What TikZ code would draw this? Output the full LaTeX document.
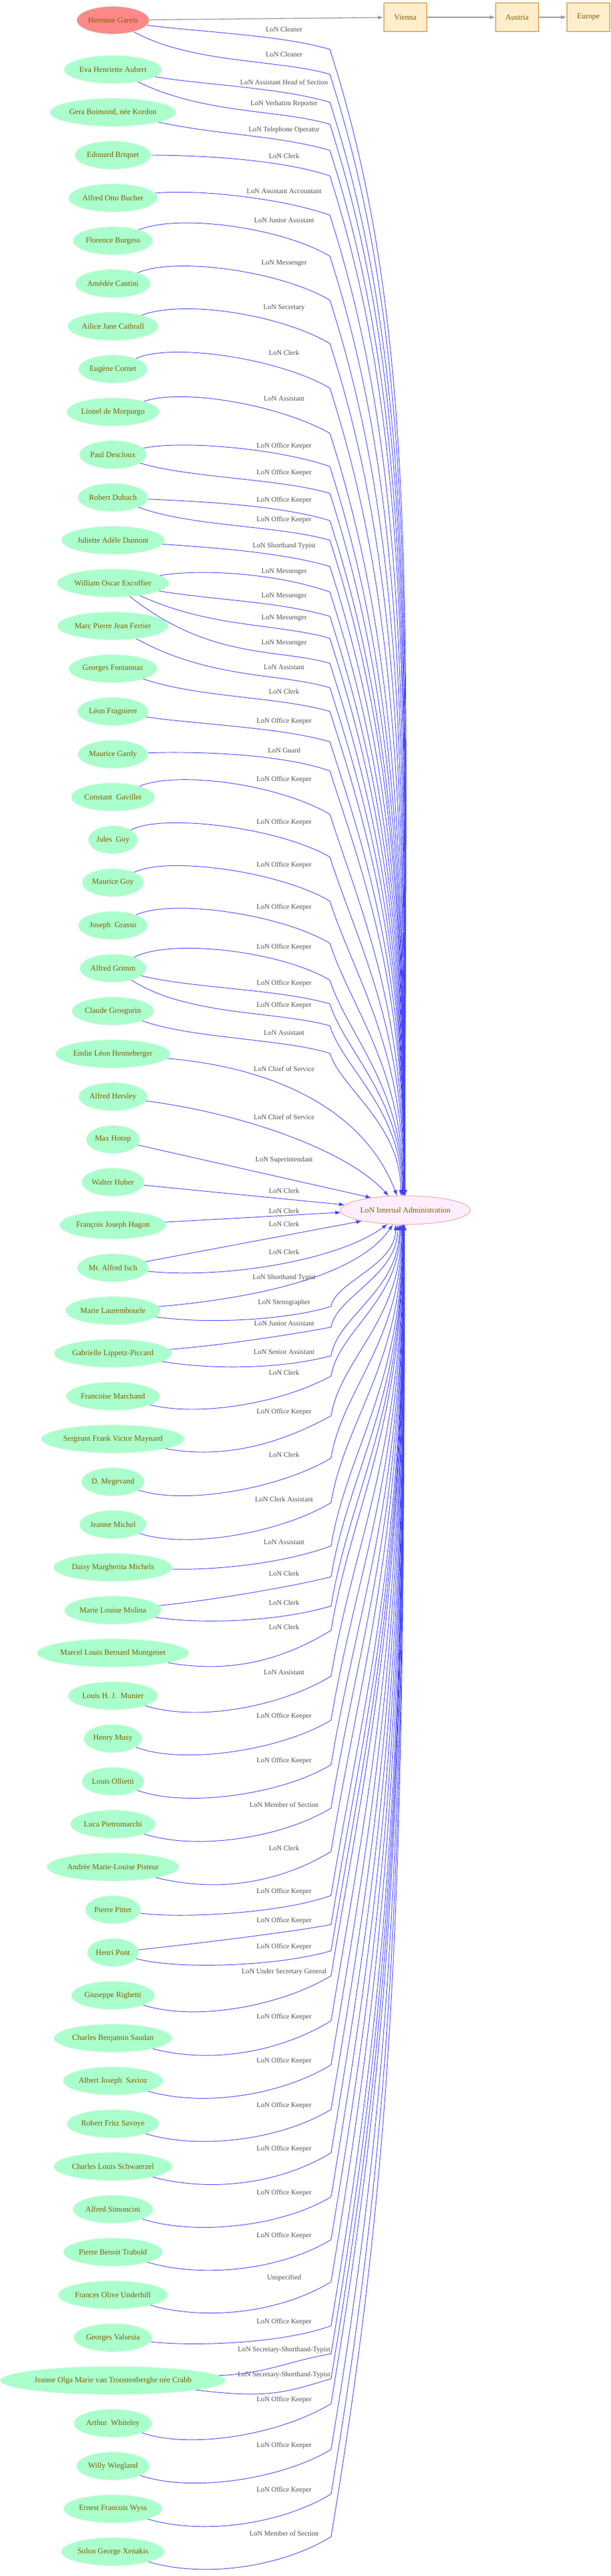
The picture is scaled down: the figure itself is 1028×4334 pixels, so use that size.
\documentclass[tikz,border=0pt]{standalone}
\usepackage{fontspec}
\setmainfont{Liberation Serif}
\usetikzlibrary{shapes.geometric,arrows.meta,calc}
\definecolor{personfill}{HTML}{AAFFCC}
\definecolor{personline}{HTML}{C8FAD8}
\definecolor{firstfill}{HTML}{FF8888}
\definecolor{nametext}{HTML}{806000}
\definecolor{orgfill}{HTML}{FFEEFF}
\definecolor{orgline}{HTML}{F0A8A8}
\definecolor{placefill}{HTML}{FFEECC}
\definecolor{placeline}{HTML}{E0B070}
\definecolor{roleblue}{HTML}{4444FF}
\definecolor{roletext}{HTML}{505050}
\definecolor{placegray}{HTML}{999999}
\frenchspacing

\begin{document}
\begin{tikzpicture}[x=0.75pt,y=-0.75pt,
  >={Latex[length=7pt,width=5pt]},
  person/.style={ellipse, fill=personfill, draw=personline, line width=0.8pt, text=nametext,
    font=\fontsize{9.9}{12}\selectfont, minimum height=35pt, inner xsep=1pt, inner ysep=0pt},
  org/.style={ellipse, fill=orgfill, draw=orgline, line width=0.8pt, text=nametext,
    font=\fontsize{9.9}{12}\selectfont, minimum height=36pt, inner xsep=1pt, inner ysep=0pt},
  place/.style={rectangle, fill=placefill, draw=placeline, line width=0.8pt, text=nametext,
    font=\fontsize{9.9}{12}\selectfont, minimum width=54pt, minimum height=36pt},
  lonlabel/.style={font=\fontsize{8.9}{10}\selectfont, text=roletext, inner sep=0pt},
  lonedge/.style={->, draw=roleblue, line width=0.7pt},
  placeedge/.style={->, draw=placegray, line width=1pt}]
\useasboundingbox (0,0) rectangle (1028,4334);

% Parameters
\def\labelX{478}
\def\kneeX{555}
\def\tgtTop{2012}
\def\tgtBottom{2060}

% Edge running above the target: source -> knee -> top of target
% #4 first control (from source east), #5 second control (from knee), #6 knee below label
\def\upedge#1#2#3#4#5#6{
  \pgfmathsetmacro\kneeY{#2+#6}
  \pgfmathsetmacro\spanH{\tgtTop-\kneeY}
  \pgfmathtruncatemacro\tipAngle{92+28*(180/\spanH)^2}
  \pgfmathsetmacro\ctrlX{\kneeX+0.08*\spanH}
  \pgfmathsetmacro\ctrlY{\kneeY+0.25*\spanH}
  \pgfmathsetmacro\lift{0.5*\spanH}
  \node[lonlabel] (l#2) at (\labelX,#2) {#3};
  \draw[lonedge] (#1) .. controls ($(#1.east)+(#4)$) and ($(\kneeX,\kneeY)+(#5)$) .. (\kneeX,\kneeY)
    .. controls (\ctrlX,\ctrlY) and ($(tgt.\tipAngle)+(0,-\lift)$) .. (tgt.\tipAngle);
}
% Edge running below the target: source -> knee -> bottom of target
\def\downedge#1#2#3#4#5{
  \pgfmathsetmacro\kneeY{#2+6}
  \pgfmathsetmacro\spanH{\kneeY-\tgtBottom}
  \pgfmathtruncatemacro\tipAngle{-(92+45*100/\spanH)}
  \pgfmathsetmacro\ctrlX{557+0.05*\spanH}
  \pgfmathsetmacro\ctrlY{\kneeY-0.3*\spanH}
  \pgfmathsetmacro\lift{0.5*\spanH}
  \node[lonlabel] (l#2) at (\labelX,#2) {#3};
  \draw[lonedge] (#1) .. controls ($(#1.east)+(70,#4)$) and (475,\kneeY+#5) .. (557,\kneeY)
    .. controls (\ctrlX,\ctrlY) and ($(tgt.\tipAngle)+(0,\lift)$) .. (tgt.\tipAngle);
}

% Places
\node[place] (vienna) at (682,29) {Vienna};
\node[place] (austria) at (870,29) {Austria};
\node[place] (europe) at (990,29) {Europe};

% Target
\node[org] (tgt) at (682,2036) {LoN Internal Administration};

% People
\node[person, fill=firstfill] (n01) at (190,34) {Hermine Gareis};
\node[person] (n02) at (190,117) {Eva Henriette Aubert};
\node[person] (n03) at (190,189) {Gera Boimond, née Kordon};
\node[person] (n04) at (190,261) {Edouard Briquet};
\node[person] (n05) at (190,333) {Alfred Otto Bucher};
\node[person] (n06) at (190,405) {Florence Burgess};
\node[person] (n07) at (190,477) {Amédée Cantini};
\node[person] (n08) at (190,549) {Ailice Jane Cathrall};
\node[person] (n09) at (190,621) {Eugène Cornet};
\node[person] (n10) at (190,693) {Lionel de Morpurgo};
\node[person] (n11) at (190,765) {Paul Descloux};
\node[person] (n12) at (190,837) {Robert Dubach};
\node[person] (n13) at (190,909) {Juliette Adèle Dumont};
\node[person] (n14) at (190,981) {William Oscar Excoffier};
\node[person] (n15) at (190,1053) {Marc Pierre Jean Ferrier};
\node[person] (n16) at (190,1125) {Georges Fontannaz};
\node[person] (n17) at (190,1197) {Léon Fragniere};
\node[person] (n18) at (190,1269) {Maurice Gardy};
\node[person] (n19) at (190,1341) {Constant~~Gavillet};
\node[person] (n20) at (190,1413) {Jules~~Goy};
\node[person] (n21) at (190,1485) {Maurice Goy};
\node[person] (n22) at (190,1557) {Joseph~~Grasso};
\node[person] (n23) at (190,1629) {Alfred Grimm};
\node[person] (n24) at (190,1701) {Claude Grosgurin};
\node[person] (n25) at (190,1773) {Emlie Léon Henneberger};
\node[person] (n26) at (190,1845) {Alfred Hersley};
\node[person] (n27) at (190,1917) {Max Hotop};
\node[person] (n28) at (190,1989) {Walter Huber};
\node[person] (n29) at (190,2061) {François Joseph Hugon};
\node[person] (n30) at (190,2133) {Mr. Alfred Isch};
\node[person] (n31) at (190,2205) {Marie Laurembourle};
\node[person] (n32) at (190,2277) {Gabrielle Lippetz-Piccard};
\node[person] (n33) at (190,2349) {Francoise Marchand};
\node[person] (n34) at (190,2421) {Sergeant Frank Victor Maynard};
\node[person] (n35) at (190,2493) {D. Megevand};
\node[person] (n36) at (190,2565) {Jeanne Michel};
\node[person] (n37) at (190,2637) {Daisy Margherita Michels};
\node[person] (n38) at (190,2709) {Marie Louise Molina};
\node[person] (n39) at (190,2781) {Marcel Louis Bernard Montgenet};
\node[person] (n40) at (190,2853) {Louis H. J.~~Munier};
\node[person] (n41) at (190,2925) {Henry Musy};
\node[person] (n42) at (190,2997) {Louis Ollietti};
\node[person] (n43) at (190,3069) {Luca Pietromarchi};
\node[person] (n44) at (190,3141) {Andrée Marie-Louise Pisteur};
\node[person] (n45) at (190,3213) {Pierre Pittet};
\node[person] (n46) at (190,3285) {Henri Pont};
\node[person] (n47) at (190,3357) {Giuseppe Righetti};
\node[person] (n48) at (190,3429) {Charles Benjamin Saudan};
\node[person] (n49) at (190,3501) {Albert Joseph~~Savioz};
\node[person] (n50) at (190,3573) {Robert Fritz Savoye};
\node[person] (n51) at (190,3645) {Charles Louis Schwaerzel};
\node[person] (n52) at (190,3717) {Alfred Simoncini};
\node[person] (n53) at (190,3789) {Pierre Benoit Trabold};
\node[person] (n54) at (190,3861) {Frances Olive Underhill};
\node[person] (n55) at (190,3933) {Georges Valsesia};
\node[person] (n56) at (190,4005) {Jeanne Olga Marie van Troostenberghe née Crabb};
\node[person] (n57) at (190,4077) {Arthur~~Whiteley};
\node[person] (n58) at (190,4149) {Willy Wiegland};
\node[person] (n59) at (190,4221) {Ernest Francois Wyss};
\node[person] (n60) at (190,4293) {Solon George Xenakis};

% Location chain
\draw[placeedge] (n01) -- (vienna);
\draw[placeedge] (vienna) -- (austria);
\draw[placeedge] (austria) -- (europe);

% Roles, above the target
\upedge{n01}{49}{LoN Cleaner}{70,19}{-85,-25}{34}
\upedge{n01}{91}{LoN Cleaner}{70,73}{-85,-25}{34}
\upedge{n02}{138}{LoN Assistant Head of Section}{70,26}{-85,-25}{34}
\upedge{n02}{175}{LoN Verbatim Reporter}{70,75}{-85,-25}{34}
\upedge{n03}{219}{LoN Telephone Operator}{70,38}{-85,-25}{34}
\upedge{n04}{262}{LoN Clerk}{70,0}{-85,-29}{34}
\upedge{n05}{322}{LoN Assistant Accountant}{60,-15}{-85,-30}{40}
\upedge{n06}{371}{LoN Junior Assistant}{40,-45}{-85,-50}{60}
\upedge{n07}{443}{LoN Messenger}{40,-45}{-85,-50}{62}
\upedge{n08}{518}{LoN Secretary}{40,-45}{-85,-50}{60}
\upedge{n09}{593}{LoN Clerk}{40,-45}{-85,-50}{60}
\upedge{n10}{671}{LoN Assistant}{40,-40}{-85,-48}{58}
\upedge{n11}{751}{LoN Office Keeper}{60,-25}{-85,-30}{34}
\upedge{n11}{796}{LoN Office Keeper}{70,39}{-85,-25}{34}
\upedge{n12}{842}{LoN Office Keeper}{70,6}{-85,-27}{34}
\upedge{n12}{875}{LoN Office Keeper}{70,49}{-85,-25}{34}
\upedge{n13}{919}{LoN Shorthand Typist}{70,12}{-85,-25}{34}
\upedge{n14}{962}{LoN Messenger}{60,-25}{-85,-30}{34}
\upedge{n14}{1003}{LoN Messenger}{70,28}{-85,-25}{34}
\upedge{n14}{1040}{LoN Messenger}{70,76}{-85,-25}{34}
\upedge{n14}{1082}{LoN Messenger}{70,130}{-85,-25}{34}
\upedge{n15}{1123}{LoN Assistant}{70,90}{-85,-25}{34}
\upedge{n16}{1163}{LoN Clerk}{70,49}{-85,-25}{34}
\upedge{n17}{1214}{LoN Office Keeper}{70,21}{-85,-25}{34}
\upedge{n18}{1262}{LoN Guard}{70,-5}{-85,-30}{35}
\upedge{n19}{1312}{LoN Office Keeper}{40,-45}{-85,-50}{58}
\upedge{n20}{1384}{LoN Office Keeper}{40,-45}{-85,-50}{58}
\upedge{n21}{1456}{LoN Office Keeper}{40,-45}{-85,-50}{60}
\upedge{n22}{1527}{LoN Office Keeper}{40,-45}{-85,-50}{60}
\upedge{n23}{1594}{LoN Office Keeper}{40,-50}{-85,-50}{55}
\upedge{n23}{1655}{LoN Office Keeper}{70,33}{-85,-25}{34}
\upedge{n23}{1692}{LoN Office Keeper}{70,81}{-85,-25}{34}
\upedge{n24}{1738}{LoN Assistant}{70,47}{-85,-25}{34}

% Roles, close to the target
\node[lonlabel] (l1798) at (\labelX,1798) {LoN Chief of Service};
\draw[lonedge] (n25) .. controls (450,1795) and (610,1860) .. (tgt.120);
\node[lonlabel] (l1879) at (\labelX,1879) {LoN Chief of Service};
\draw[lonedge] (n26) .. controls (420,1875) and (590,1940) .. (tgt.140);
\node[lonlabel] (l1952) at (\labelX,1952) {LoN Superintendant};
\draw[lonedge] (n27) -- (tgt.160);
\node[lonlabel] (l2003) at (\labelX,2003) {LoN Clerk};
\draw[lonedge] (n28) -- (tgt.175);
\node[lonlabel] (l2037) at (\labelX,2037) {LoN Clerk};
\draw[lonedge] (n29) -- (tgt.182);
\node[lonlabel] (l2059) at (\labelX,2059) {LoN Clerk};
\draw[lonedge] (n30) -- (tgt.194);
\node[lonlabel] (l2106) at (\labelX,2106) {LoN Clerk};
\draw[lonedge] (n30) .. controls (380,2152) and (570,2120) .. (tgt.218);
\node[lonlabel] (l2150) at (\labelX,2150) {LoN Shorthand Typist};
\draw[lonedge] (n31) .. controls (420,2185) and (600,2150) .. (tgt.229);

% Roles, below the target
\downedge{n31}{2192}{LoN Stenographer}{22}{25}
\downedge{n32}{2227}{LoN Junior Assistant}{-12}{15}
\downedge{n32}{2275}{LoN Senior Assistant}{28}{22}
\downedge{n33}{2309}{LoN Clerk}{35}{45}
\downedge{n34}{2376}{LoN Office Keeper}{35}{45}
\downedge{n35}{2447}{LoN Clerk}{40}{50}
\downedge{n36}{2522}{LoN Clerk Assistant}{42}{50}
\downedge{n37}{2595}{LoN Assistant}{5}{30}
\downedge{n38}{2647}{LoN Clerk}{-15}{20}
\downedge{n38}{2696}{LoN Clerk}{25}{25}
\downedge{n39}{2737}{LoN Clerk}{35}{50}
\downedge{n40}{2814}{LoN Assistant}{45}{50}
\downedge{n41}{2888}{LoN Office Keeper}{45}{50}
\downedge{n42}{2963}{LoN Office Keeper}{45}{50}
\downedge{n43}{3036}{LoN Member of Section}{45}{50}
\downedge{n44}{3109}{LoN Clerk}{45}{50}
\downedge{n45}{3183}{LoN Office Keeper}{15}{30}
\downedge{n46}{3232}{LoN Office Keeper}{-12}{15}
\downedge{n46}{3276}{LoN Office Keeper}{30}{25}
\downedge{n47}{3318}{LoN Under Secretary General}{45}{50}
\downedge{n48}{3394}{LoN Office Keeper}{45}{50}
\downedge{n49}{3468}{LoN Office Keeper}{45}{50}
\downedge{n50}{3543}{LoN Office Keeper}{45}{50}
\downedge{n51}{3616}{LoN Office Keeper}{45}{50}
\downedge{n52}{3690}{LoN Office Keeper}{45}{50}
\downedge{n53}{3762}{LoN Office Keeper}{45}{50}
\downedge{n54}{3833}{Unspecified}{45}{50}
\downedge{n55}{3907}{LoN Office Keeper}{15}{30}
\downedge{n56}{3954}{LoN Secretary-Shorthand-Typist}{-12}{15}
\downedge{n56}{3996}{LoN Secretary-Shorthand-Typist}{30}{25}
\downedge{n57}{4038}{LoN Office Keeper}{45}{50}
\downedge{n58}{4115}{LoN Office Keeper}{45}{50}
\downedge{n59}{4190}{LoN Office Keeper}{45}{50}
\downedge{n60}{4262}{LoN Member of Section}{45}{50}

\end{tikzpicture}
\end{document}
